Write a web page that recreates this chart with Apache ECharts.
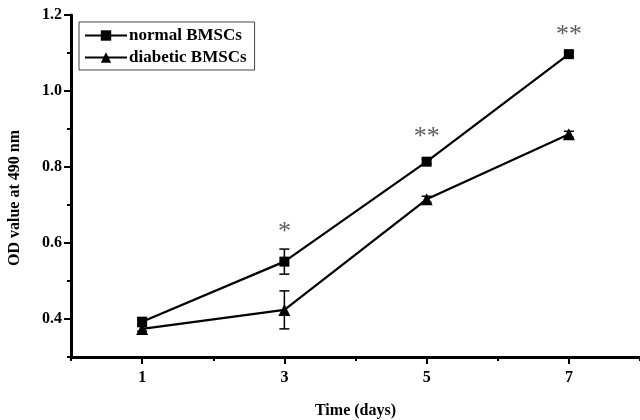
<!DOCTYPE html>
<html>
<head>
<meta charset="utf-8">
<script src="https://cdn.jsdelivr.net/npm/echarts@6/dist/echarts.min.js"></script>
<style>
  html, body { margin: 0; padding: 0; background: #fff; }
  #main { width: 640px; height: 420px; }
</style>
</head>
<body>
<div id="main"></div>
<script>
// days
var days = [1, 3, 5, 7];
// OD values at 490 nm
var normalOD = [0.393, 0.551, 0.814, 1.097];
var normalErr = [0.008, 0.033, 0.006, 0.006];
var diabeticOD = [0.374, 0.424, 0.715, 0.886];
var diabeticErr = [0.006, 0.050, 0.008, 0.008];
// significance marks (day, height, text)
var sigDays = [3, 5, 7];
var sigHeights = [0.628, 0.878, 1.146];
var sigText = ['*', '**', '**'];
// tick values
var xMajor = [1, 3, 5, 7];
var yMajor = [0.4, 0.6, 0.8, 1.0, 1.2];

var font = 'Liberation Serif';

function pairs(xs, ys) {
  return xs.map(function (x, i) { return [x, ys[i]]; });
}

function errBars(vals, errs) {
  return days.map(function (d, i) { return [d, vals[i] - errs[i], vals[i] + errs[i]]; });
}

function renderErr(params, api) {
  var x = api.value(0);
  var lo = api.coord([x, api.value(1)]);
  var hi = api.coord([x, api.value(2)]);
  var w = 5;
  var st = { stroke: '#000', lineWidth: 1.5 };
  return {
    type: 'group',
    children: [
      { type: 'line', shape: { x1: lo[0], y1: lo[1], x2: hi[0], y2: hi[1] }, style: st },
      { type: 'line', shape: { x1: lo[0] - w, y1: lo[1], x2: lo[0] + w, y2: lo[1] }, style: st },
      { type: 'line', shape: { x1: hi[0] - w, y1: hi[1], x2: hi[0] + w, y2: hi[1] }, style: st }
    ]
  };
}

var labelStyle = { fontFamily: font, fontWeight: 'bold', fontSize: 16, color: '#000' };

var chart = echarts.init(document.getElementById('main'));
chart.setOption({
  animation: false,
  backgroundColor: '#fff',
  grid: { left: 71, right: 0, top: 15, bottom: 63, containLabel: false, outerBoundsMode: 'none' },
  legend: {
    left: 79,
    top: 22,
    orient: 'vertical',
    itemWidth: 42,
    itemHeight: 13,
    itemGap: 5,
    padding: [5, 8, 4, 5],
    borderColor: '#444',
    borderWidth: 1,
    data: ['normal BMSCs', 'diabetic BMSCs'],
    textStyle: { fontFamily: font, fontWeight: 'bold', fontSize: 17, color: '#000', padding: [0, 0, 0, -3] }
  },
  xAxis: [
    {
      type: 'value',
      min: 0,
      max: 8,
      interval: 1,
      name: 'Time (days)',
      nameLocation: 'middle',
      nameGap: 46,
      nameTextStyle: labelStyle,
      axisLine: { lineStyle: { color: '#000', width: 3 } },
      axisTick: { inside: false, length: 7, customValues: xMajor, lineStyle: { color: '#000', width: 2 } },
      axisLabel: Object.assign({ margin: 13, customValues: xMajor }, labelStyle),
      splitLine: { show: false },
      z: 3
    },
    {
      type: 'value',
      min: 0,
      max: 8,
      interval: 1,
      position: 'bottom',
      axisLine: { show: false },
      axisTick: { inside: false, length: 4, lineStyle: { color: '#000', width: 2 } },
      axisLabel: { show: false },
      splitLine: { show: false }
    }
  ],
  yAxis: [
    {
      type: 'value',
      min: 0.3,
      max: 1.2,
      interval: 0.1,
      name: 'OD value at 490 nm',
      nameLocation: 'middle',
      nameGap: 48,
      nameTextStyle: Object.assign({ padding: [0, 24, 0, 0] }, labelStyle),
      axisLine: { show: true, lineStyle: { color: '#000', width: 3 } },
      axisTick: { show: true, inside: false, length: 7, customValues: yMajor, lineStyle: { color: '#000', width: 2 } },
      axisLabel: Object.assign({
        margin: 9,
        customValues: yMajor,
        formatter: function (v) { return v.toFixed(1); }
      }, labelStyle),
      splitLine: { show: false },
      z: 3
    },
    {
      type: 'value',
      min: 0.3,
      max: 1.2,
      interval: 0.1,
      position: 'left',
      axisLine: { show: false },
      axisTick: { show: true, inside: false, length: 4, lineStyle: { color: '#000', width: 2 } },
      axisLabel: { show: false },
      splitLine: { show: false }
    }
  ],
  series: [
    {
      name: 'normal BMSCs',
      type: 'line',
      data: pairs(days, normalOD),
      symbol: 'rect',
      symbolSize: 10,
      lineStyle: { color: '#000', width: 2.2 },
      itemStyle: { color: '#000' },
      z: 3
    },
    {
      name: 'diabetic BMSCs',
      type: 'line',
      data: pairs(days, diabeticOD),
      symbol: 'triangle',
      symbolSize: 12,
      lineStyle: { color: '#000', width: 2.2 },
      itemStyle: { color: '#000' },
      z: 3
    },
    {
      type: 'custom',
      renderItem: renderErr,
      data: errBars(normalOD, normalErr),
      z: 4
    },
    {
      type: 'custom',
      renderItem: renderErr,
      data: errBars(diabeticOD, diabeticErr),
      z: 4
    },
    {
      type: 'scatter',
      data: pairs(sigDays, sigHeights),
      symbolSize: 0,
      label: {
        show: true,
        position: 'inside',
        formatter: function (p) { return sigText[p.dataIndex]; },
        fontFamily: font,
        fontSize: 26,
        color: '#333',
        lineHeight: 26
      },
      z: 5
    }
  ]
});
</script>
</body>
</html>
